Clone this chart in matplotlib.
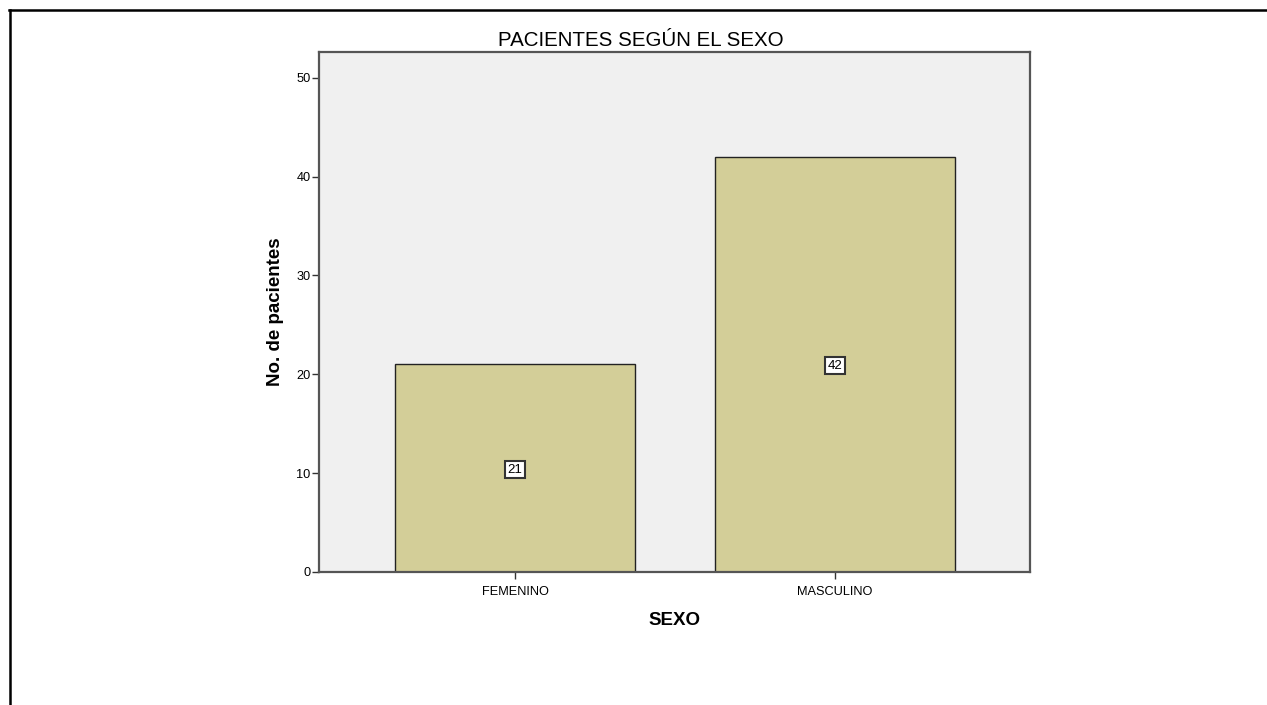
import matplotlib
matplotlib.use('Agg')
import matplotlib.pyplot as plt
from matplotlib.lines import Line2D

categories = ['FEMENINO', 'MASCULINO']
counts = [21, 42]

plt.rcParams['font.family'] = ['Liberation Sans', 'DejaVu Sans']

fig = plt.figure(figsize=(12.67, 7.05), dpi=100)
ax = fig.add_axes([0.2518, 0.1887, 0.5612, 0.7376])
ax.set_facecolor('#f0f0f0')

x = list(range(len(categories)))
ax.bar(x, counts, width=0.75, color='#d3ce98', edgecolor='#222222', linewidth=1.0, zorder=2)
for xi, c in zip(x, counts):
    ax.text(xi, c / 2, str(c), ha='center', va='center_baseline', fontsize=9.5, zorder=3,
            bbox=dict(boxstyle='square,pad=0.2', fc='white', ec='#333333', lw=1.5))

ax.set_xlim(-0.6125, 1.609)
ax.set_ylim(0, 52.6)
ax.set_yticks([0, 10, 20, 30, 40, 50])
ax.set_xticks(x)
ax.set_xticklabels(categories)
ax.tick_params(axis='both', labelsize=9.2, length=5, width=1, color='#333333')
ax.tick_params(axis='x', pad=5)
ax.tick_params(axis='y', pad=1)

for s in ax.spines.values():
    s.set_color('#555555')
    s.set_linewidth(1.6)

fig.text(641 / 1267, 1 - 40 / 705, 'PACIENTES SEGÚN EL SEXO', fontsize=14.8,
         ha='center', va='center')
ax.set_xlabel('SEXO', fontsize=13.5, fontweight='bold', labelpad=10)
ax.set_ylabel('No. de pacientes', fontsize=13.5, fontweight='bold', labelpad=9)

# outer frame lines (top and left)
fig.add_artist(Line2D([9 / 1267, 1.0], [1 - 9.5 / 705] * 2, color='black', lw=1.8,
                      transform=fig.transFigure))
fig.add_artist(Line2D([9.5 / 1267] * 2, [0, 1 - 9.5 / 705], color='black', lw=1.8,
                      transform=fig.transFigure))

fig.savefig('out.png', dpi=100)
